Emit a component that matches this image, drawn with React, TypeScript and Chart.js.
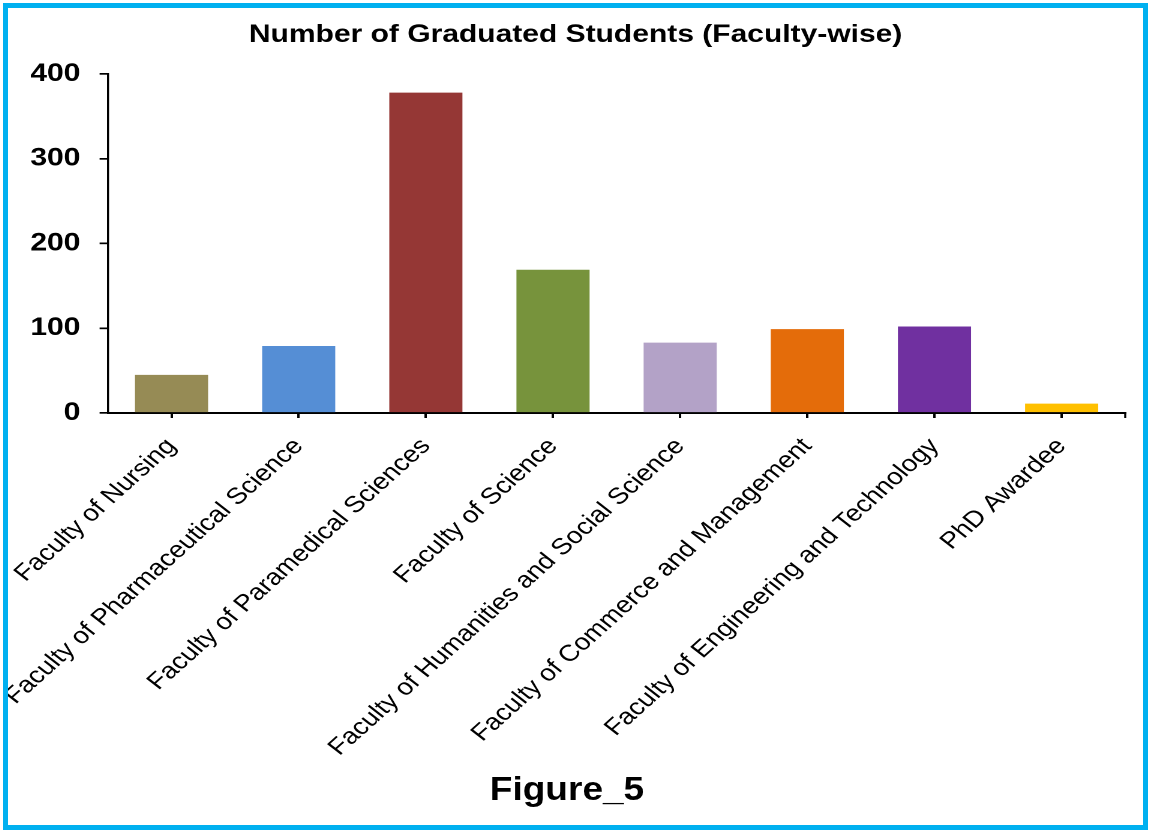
import React, { useEffect, useRef } from "react";
import { Chart, registerables } from "chart.js";

Chart.register(...registerables);

const categories = [
  "Faculty of Nursing",
  "Faculty of Pharmaceutical Science",
  "Faculty of Paramedical Sciences",
  "Faculty of Science",
  "Faculty of Humanities and Social Science",
  "Faculty of Commerce and Management",
  "Faculty of Engineering and Technology",
  "PhD Awardee",
];
const graduates = [45, 79, 378, 169, 83, 99, 102, 11];
const barColors = ["#968B55", "#558ED5", "#953735", "#77933C", "#B3A2C7", "#E46C0A", "#7030A0", "#FFC000"];
const yTicks = [0, 100, 200, 300, 400];
const chartTitle = "Number of Graduated Students (Faculty-wise)";
const figureLabel = "Figure_5";

const FONT = '"Liberation Sans", Arial, sans-serif';
const SX = 1.2;
const CW = 946;
const CH = 817;

export default function App() {
  const ref = useRef<HTMLCanvasElement>(null);

  useEffect(() => {
    const endTick = {
      id: "endTick",
      afterDraw(chart: any) {
        const { ctx, chartArea } = chart;
        ctx.save();
        ctx.strokeStyle = "#000";
        ctx.lineWidth = 1.7;
        ctx.beginPath();
        ctx.moveTo(chartArea.right, chartArea.bottom);
        ctx.lineTo(chartArea.right, chartArea.bottom + 5);
        ctx.stroke();
        ctx.restore();
      },
    };
    const chart = new Chart(ref.current!, {
      type: "bar",
      data: {
        labels: categories,
        datasets: [
          {
            data: graduates,
            backgroundColor: barColors,
            borderWidth: 0,
            categoryPercentage: 0.575,
            barPercentage: 1,
          },
        ],
      },
      options: {
        animation: false,
        responsive: false,
        devicePixelRatio: 2,
        layout: { padding: { left: 15, right: 15, top: 0, bottom: 0 } },
        plugins: {
          legend: { display: false },
          tooltip: { enabled: false },
          title: {
            display: true,
            text: chartTitle,
            color: "#000",
            font: { family: FONT, size: 25, weight: "bold" },
            padding: { top: 12, bottom: 24 },
          },
        },
        scales: {
          x: {
            grid: {
              display: true,
              drawOnChartArea: false,
              offset: false,
              tickLength: 5,
              color: "#000",
              lineWidth: 2,
            },
            border: { display: true, color: "#000", width: 2 },
            ticks: {
              autoSkip: false,
              minRotation: 47,
              maxRotation: 47,
              color: "#000",
              font: { family: FONT, size: 23 },
              padding: 15,
            },
            afterFit: (s: any) => {
              s.height = 412;
              s.paddingLeft = 0;
              s.paddingRight = 0;
            },
          },
          y: {
            min: 0,
            max: 400,
            afterBuildTicks: (s: any) => {
              s.ticks = yTicks.map((v) => ({ value: v }));
            },
            grid: {
              drawOnChartArea: false,
              tickLength: 7,
              color: "#000",
              lineWidth: 1.7,
            },
            border: { display: true, color: "#000", width: 1.7 },
            ticks: {
              color: "#000",
              font: { family: FONT, size: 25, weight: "bold" },
              padding: 16,
            },
            afterFit: (s: any) => {
              s.width = 68.3;
            },
          },
        },
      },
      plugins: [endTick],
    });
    return () => chart.destroy();
  }, []);

  return (
    <div
      style={{
        position: "absolute",
        left: 3,
        top: 3,
        width: 1145,
        height: 827,
        boxSizing: "border-box",
        border: "5px solid #00B0F0",
        background: "#fff",
        overflow: "hidden",
      }}
    >
      <div
        style={{
          position: "absolute",
          left: 0,
          top: 0,
          width: CW,
          height: CH,
          transform: `scaleX(${SX})`,
          transformOrigin: "0 0",
        }}
      >
        <canvas ref={ref} width={CW} height={CH} style={{ width: CW, height: CH, display: "block" }} />
      </div>
      <div
        style={{
          position: "absolute",
          left: 459,
          top: 763,
          width: 200,
          textAlign: "center",
          fontFamily: FONT,
          fontWeight: "bold",
          fontSize: 34,
          lineHeight: "34px",
          color: "#000",
          transform: "scaleX(1.09)",
          transformOrigin: "50% 50%",
        }}
      >
        {figureLabel}
      </div>
    </div>
  );
}
